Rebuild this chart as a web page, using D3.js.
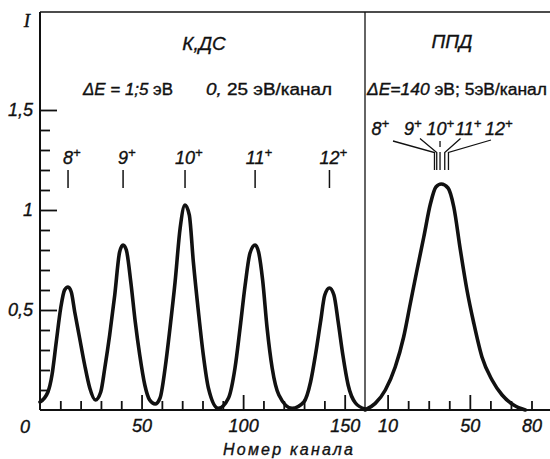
<!DOCTYPE html>
<html>
<head>
<meta charset="utf-8">
<script src="https://cdn.jsdelivr.net/npm/d3@7"></script>
<style>
  html, body { margin: 0; padding: 0; background: #fff; }
  svg { display: block; }
  text { font-family: "Liberation Sans", Arial, sans-serif; fill: #111; stroke: #111; stroke-width: 0.35px; }
</style>
</head>
<body>
<svg id="chart" width="550" height="459"></svg>
<script>
// ---------------- data ----------------
// КДС spectrum (channel, intensity)
const kdsChannel = [0, 3.9, 5.9, 8.0, 10.2, 12.1, 13.8, 15.4, 17.1, 19.5, 22.0, 24.5, 27.3,
  29.9, 31.9, 34.3, 36.8, 39.2, 40.9, 42.5, 44.7, 46.9, 49.1, 51.6, 54.0, 56.7,
  59.1, 61.6, 64.0, 66.5, 69.0, 71.4, 73.5, 75.5, 78.0, 80.4, 82.9, 87.8,
  92.8, 96.0, 98.5, 101.0, 103.4, 105.9, 107.6, 109.6, 111.8, 114.3, 117.6, 124.1,
  129.9, 133.2, 135.6, 138.1, 140.2, 142.5, 144.7, 146.8, 149.1, 151.7, 155.3, 160];
const kdsIntensity = [0.04, 0.09, 0.175, 0.34, 0.51, 0.60, 0.615, 0.59, 0.49, 0.36, 0.225, 0.11, 0.05,
  0.09, 0.21, 0.375, 0.575, 0.79, 0.825, 0.80, 0.64, 0.44, 0.275, 0.125, 0.05, 0.03,
  0.06, 0.21, 0.41, 0.64, 0.91, 1.025, 0.975, 0.74, 0.49, 0.275, 0.11, 0.008,
  0.06, 0.21, 0.41, 0.625, 0.785, 0.825, 0.79, 0.65, 0.41, 0.21, 0.075, 0.008,
  0.04, 0.14, 0.275, 0.44, 0.575, 0.61, 0.575, 0.44, 0.275, 0.125, 0.035, 0.005];

// ППД spectrum (channel, intensity)
const ppdChannel = [-1, 4.0, 8.9, 13.7, 17.8, 21.0, 24.3, 27.6, 30.8, 33.5, 36.1, 39.4,
  42.2, 45.4, 48.6, 51.9, 55.9, 60.8, 65.7, 71.3, 77.0];
const ppdIntensity = [0.0, 0.033, 0.10, 0.215, 0.365, 0.53, 0.70, 0.865, 1.03, 1.115, 1.13, 1.11,
  1.015, 0.80, 0.60, 0.435, 0.265, 0.15, 0.075, 0.025, 0.0];

// ion charge labels and where they sit
const ionLabels = ["8", "9", "10", "11", "12"];
const kdsPeakChannel = [13.8, 40.9, 71.4, 105.9, 142.5];
const ppdPeakChannel = [32.8, 33.9, 35.5, 37.8, 39.6];

// axis ticks
const yMajorTicks = [0.5, 1, 1.5];
const yTickLabels = ["0,5", "1", "1,5"];
const yMinorTicks = [0.1, 0.2, 0.3, 0.4, 0.6, 0.7, 0.8, 0.9, 1.1, 1.2, 1.3, 1.4];
const kdsMajorTicks = [50, 100, 150];
const kdsTickLabels = ["50", "100", "150"];
const kdsMinorTicks = [10, 20, 30, 40, 60, 70, 80, 90, 110, 120, 130, 140];
const ppdMajorTicks = [10, 50];
const ppdMinorTicks = [20, 30, 40, 60, 70, 80];
const ppdTickLabels = ["10", "50", "80"];
const ppdLabelTicks = [10, 50, 80];

// ---------------- layout ----------------
const L = { left: 40, divider: 365, right: 550, top: 12, bottom: 410 };

const svg = d3.select("#chart");
const xL = d3.scaleLinear().domain([0, 160]).range([L.left, L.divider]);
const xR = d3.scaleLinear().domain([-1, 89]).range([L.divider, L.right]);
const y = d3.scaleLinear().domain([0, 1.99]).range([L.bottom, L.top]);

const ink = "#111";

// frame lines
svg.append("line").attr("x1", L.left).attr("x2", L.right).attr("y1", L.top).attr("y2", L.top)
  .attr("stroke", ink).attr("stroke-width", 1.5);
svg.append("line").attr("x1", L.divider).attr("x2", L.divider).attr("y1", L.top).attr("y2", L.bottom)
  .attr("stroke", ink).attr("stroke-width", 1.3);

function styleAxis(g) {
  g.select(".domain").remove();
  g.selectAll(".tick line").attr("stroke", ink).attr("stroke-width", 1.8);
  g.selectAll(".tick text").attr("fill", ink)
    .style("font-family", "'Liberation Sans', Arial, sans-serif")
    .style("font-style", "italic").style("font-size", "18px");
}
// y axis
svg.append("g").attr("transform", `translate(${L.left},0)`)
  .call(d3.axisLeft(y).tickValues(yMinorTicks).tickSize(-10).tickFormat(""))
  .call(styleAxis);
svg.append("g").attr("transform", `translate(${L.left},0)`)
  .call(d3.axisLeft(y).tickValues(yMajorTicks).tickSize(-17).tickPadding(7)
    .tickFormat((d, i) => yTickLabels[i]))
  .call(styleAxis);

// x axes
svg.append("g").attr("transform", `translate(0,${L.bottom})`)
  .call(d3.axisBottom(xL).tickValues(kdsMinorTicks).tickSize(-9).tickFormat(""))
  .call(styleAxis);
svg.append("g").attr("transform", `translate(0,${L.bottom})`)
  .call(d3.axisBottom(xL).tickValues(kdsMajorTicks).tickSize(-15).tickPadding(9)
    .tickFormat((d, i) => kdsTickLabels[i]))
  .call(styleAxis);
svg.append("g").attr("transform", `translate(0,${L.bottom})`)
  .call(d3.axisBottom(xR).tickValues(ppdMinorTicks).tickSize(-9).tickFormat(""))
  .call(styleAxis);
svg.append("g").attr("transform", `translate(0,${L.bottom})`)
  .call(d3.axisBottom(xR).tickValues(ppdMajorTicks).tickSize(-15).tickFormat(""))
  .call(styleAxis);
svg.append("g").attr("transform", `translate(0,${L.bottom})`)
  .call(d3.axisBottom(xR).tickValues(ppdLabelTicks).tickSize(0).tickPadding(9)
    .tickFormat((d, i) => ppdTickLabels[i]))
  .call(styleAxis);
// "0" label at origin
svg.append("text").attr("x", L.left - 15).attr("y", L.bottom + 23)
  .attr("text-anchor", "middle").style("font-style", "italic").style("font-size", "18px").text("0");

// axis lines
svg.append("line").attr("x1", L.left).attr("x2", L.left).attr("y1", L.top).attr("y2", L.bottom)
  .attr("stroke", ink).attr("stroke-width", 2);
svg.append("line").attr("x1", L.left).attr("x2", L.right).attr("y1", L.bottom).attr("y2", L.bottom)
  .attr("stroke", ink).attr("stroke-width", 2.2);

// axis titles
svg.append("text").attr("x", 27).attr("y", 27).attr("text-anchor", "middle")
  .style("font-family", "'Liberation Serif', serif").style("font-style", "italic")
  .style("font-size", "19px").text("I");
svg.append("text").attr("x", 223).attr("y", 455).attr("textLength", 130).attr("lengthAdjust", "spacing")
  .style("font-style", "italic").style("font-size", "16px").text("Номер канала");

// curves
const lineL = d3.line().x(d => xL(d[0])).y(d => y(d[1])).curve(d3.curveMonotoneX);
const lineR = d3.line().x(d => xR(d[0])).y(d => y(d[1])).curve(d3.curveMonotoneX);
svg.append("path").datum(kdsChannel.map((c, i) => [c, kdsIntensity[i]]))
  .attr("d", lineL).attr("fill", "none").attr("stroke", ink).attr("stroke-width", 3.6)
  .attr("stroke-linejoin", "round").attr("stroke-linecap", "round");
svg.append("path").datum(ppdChannel.map((c, i) => [c, ppdIntensity[i]]))
  .attr("d", lineR).attr("fill", "none").attr("stroke", ink).attr("stroke-width", 3.6)
  .attr("stroke-linejoin", "round").attr("stroke-linecap", "round");

// panel titles
svg.append("text").attr("x", 204).attr("y", 50).attr("text-anchor", "middle")
  .style("font-style", "italic").style("font-size", "19px").text("К,ДС");
svg.append("text").attr("x", 452).attr("y", 48).attr("text-anchor", "middle")
  .style("font-style", "italic").style("font-size", "19px").text("ППД");

// resolution lines
const t1 = svg.append("text").attr("x", 83).attr("y", 95).style("font-size", "16px")
  .attr("textLength", 90).attr("lengthAdjust", "spacingAndGlyphs");
t1.append("tspan").style("font-style", "italic").text("ΔE = 1;5 ");
t1.append("tspan").text("эВ");
const t2 = svg.append("text").attr("x", 206).attr("y", 95).style("font-size", "16px")
  .attr("textLength", 126).attr("lengthAdjust", "spacingAndGlyphs");
t2.append("tspan").style("font-style", "italic").text("0, ");
t2.append("tspan").text("25 эВ/канал");
const t3 = svg.append("text").attr("x", 367).attr("y", 95).style("font-size", "16px")
  .attr("textLength", 180).attr("lengthAdjust", "spacingAndGlyphs");
t3.append("tspan").style("font-style", "italic").text("ΔE=140 ");
t3.append("tspan").text("эВ; 5эВ/канал");

// ion labels, КДС panel
ionLabels.forEach((lab, i) => {
  const cx = xL(kdsPeakChannel[i]);
  const t = svg.append("text").attr("x", cx).attr("y", 164).attr("text-anchor", "start")
    .style("font-style", "italic").style("font-size", "18px");
  t.append("tspan").text(lab);
  t.append("tspan").attr("dy", -7).style("font-size", "13px").text("+");
  const w = t.select("tspan").node().getComputedTextLength();
  t.attr("x", cx - w / 2);
  svg.append("line").attr("x1", cx).attr("x2", cx).attr("y1", 170).attr("y2", 188)
    .attr("stroke", ink).attr("stroke-width", 1.5);
});

// ion labels, ППД panel (numeral centres in px, leader start points)
const ppdLabelX = [376.5, 409, 436.5, 464.5, 495];
const leaderStart = [[393, 141], [420, 138.5], [440, 141], [460.5, 138.5], [491, 140]];
ionLabels.forEach((lab, i) => {
  const t = svg.append("text").attr("y", 135)
    .style("font-style", "italic").style("font-size", "18px");
  t.append("tspan").text(lab);
  t.append("tspan").attr("dy", -7).style("font-size", "13px").text("+");
  const w = t.select("tspan").node().getComputedTextLength();
  t.attr("x", ppdLabelX[i] - w / 2);
  const px = xR(ppdPeakChannel[i]);
  const [sx, sy] = leaderStart[i];
  if (i === 2) {
    svg.append("line").attr("x1", px).attr("x2", px).attr("y1", sy).attr("y2", 147)
      .attr("stroke", ink).attr("stroke-width", 1.3);
    svg.append("line").attr("x1", px).attr("x2", px).attr("y1", 152).attr("y2", 170)
      .attr("stroke", ink).attr("stroke-width", 1.3);
  } else {
    svg.append("path").attr("d", `M${sx},${sy}L${px},152.5L${px},170`)
      .attr("fill", "none").attr("stroke", ink).attr("stroke-width", 1.3);
  }
});
</script>
</body>
</html>
